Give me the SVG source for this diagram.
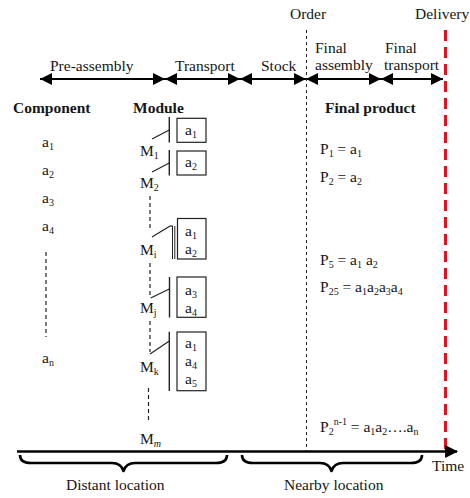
<svg xmlns="http://www.w3.org/2000/svg" width="470" height="498" viewBox="0 0 470 498">
<style>
text{font-family:"Liberation Serif","Times New Roman",serif;font-size:15.5px;fill:#161616}
.b{font-weight:bold}
.s{font-size:10px}
.box{fill:#fff;stroke:#222;stroke-width:1.2}
.bar{stroke:#222;stroke-width:1.4;fill:none}
.bar2{stroke:#222;stroke-width:1;fill:none}
.ln{stroke:#222;stroke-width:1.2;fill:none}
.dash{stroke:#222;stroke-width:1.2;stroke-dasharray:4 3;fill:none}
.arr{stroke:#000;stroke-width:2;marker-start:url(#ah);marker-end:url(#ah)}
.brace{stroke:#000;stroke-width:2.6;fill:none;stroke-linejoin:round}
</style>
<defs>
<marker id="ah" viewBox="0 0 12 12" refX="12" refY="6" markerWidth="12" markerHeight="12" orient="auto-start-reverse" markerUnits="userSpaceOnUse">
<path d="M0,0 L12,6 L0,12 z" fill="#000"/>
</marker>
<marker id="th" viewBox="0 0 12 12" refX="11" refY="6" markerWidth="13" markerHeight="13" orient="auto" markerUnits="userSpaceOnUse">
<path d="M0,0 L12,6 L0,12 z" fill="#000"/>
</marker>
</defs>
<rect width="470" height="498" fill="#fff"/>

<g id="connectors">
<line class="arr" x1="40" y1="79" x2="165" y2="79"/>
<line class="arr" x1="165" y1="79" x2="240" y2="79"/>
<line class="arr" x1="240" y1="79" x2="306" y2="79"/>
<line class="arr" x1="306" y1="79" x2="381" y2="79"/>
<line class="arr" x1="381" y1="79" x2="443" y2="79"/>
<line x1="306.5" y1="30" x2="306.5" y2="451" stroke="#222" stroke-width="1" stroke-dasharray="3 3"/>
<line x1="445.5" y1="30" x2="445.5" y2="451" stroke="#e8101a" stroke-width="3" stroke-dasharray="11 6"/>
<line x1="17" y1="451.5" x2="457" y2="451.5" stroke="#000" stroke-width="2.6" marker-end="url(#th)"/>
<path class="brace" d="M20,455 Q20,463 31,463 L112,463 Q121,463 123.5,471 Q126,463 135,463 L216,463 Q227,463 227,455"/>
<path class="brace" d="M242,455 Q242,463 253,463 L320,463 Q329,463 331.5,471 Q334,463 343,463 L411,463 Q422,463 422,455"/>
<line class="dash" x1="46" y1="252" x2="46" y2="337"/>
<line class="dash" x1="150" y1="196" x2="150" y2="228"/>
<line class="dash" x1="150" y1="263" x2="150" y2="297"/>
<line class="dash" x1="150" y1="321" x2="150" y2="352"/>
<line class="dash" x1="148.5" y1="388" x2="148.5" y2="421"/>
<line class="ln" x1="152" y1="139" x2="169.3" y2="130"/>
<line class="ln" x1="152" y1="172" x2="169.3" y2="163"/>
<line class="ln" x1="152" y1="237" x2="170" y2="226"/>
<line class="ln" x1="170" y1="226" x2="172.7" y2="226"/>
<line class="ln" x1="150.7" y1="298" x2="169.3" y2="289"/>
<line class="ln" x1="150" y1="354" x2="169.3" y2="341"/>
</g>

<g id="timeline-labels">
<text x="290" y="19">Order</text>
<text x="415" y="19">Delivery</text>
<text x="50" y="71">Pre-assembly</text>
<text x="175" y="71">Transport</text>
<text x="261" y="71">Stock</text>
<text x="315" y="53">Final</text>
<text x="315" y="70">assembly</text>
<text x="385" y="53">Final</text>
<text x="384" y="70">transport</text>
<text x="432" y="471">Time</text>
<text x="66" y="490">Distant location</text>
<text x="284" y="490">Nearby location</text>
</g>

<g id="headers">
<text class="b" x="13" y="113">Component</text>
<text class="b" x="133" y="113">Module</text>
<text class="b" x="325" y="113">Final product</text>
</g>

<g id="components">
<text x="42" y="147">a<tspan class="s" dy="3">1</tspan></text>
<text x="42" y="175">a<tspan class="s" dy="3">2</tspan></text>
<text x="42" y="203">a<tspan class="s" dy="3">3</tspan></text>
<text x="42" y="231">a<tspan class="s" dy="3">4</tspan></text>
<text x="42" y="363">a<tspan class="s" dy="3">n</tspan></text>
</g>

<g id="module-M1">
<line class="bar" x1="169.3" y1="117" x2="169.3" y2="142.5"/>
<rect class="box" x="177" y="118.3" width="29" height="24"/>
<text x="185" y="135">a<tspan class="s" dy="3">1</tspan></text>
<text x="140" y="156">M<tspan class="s" dy="3">1</tspan></text>
</g>

<g id="module-M2">
<line class="bar" x1="169.3" y1="150" x2="169.3" y2="175.5"/>
<rect class="box" x="177" y="151" width="29" height="24"/>
<text x="185" y="167">a<tspan class="s" dy="3">2</tspan></text>
<text x="140" y="188">M<tspan class="s" dy="3">2</tspan></text>
</g>

<g id="module-Mi">
<line class="bar2" x1="172.5" y1="226" x2="172.5" y2="259"/>
<line class="bar2" x1="174.8" y1="226" x2="174.8" y2="259"/>
<rect class="box" x="177.5" y="218.5" width="28.5" height="40.5"/>
<text x="185" y="236">a<tspan class="s" dy="3">1</tspan></text>
<text x="185" y="254">a<tspan class="s" dy="3">2</tspan></text>
<text x="140" y="255">M<tspan class="s" dy="3">i</tspan></text>
</g>

<g id="module-Mj">
<line class="bar" x1="169.5" y1="277" x2="169.5" y2="317.5"/>
<rect class="box" x="177" y="277" width="29" height="40.3"/>
<text x="185" y="295">a<tspan class="s" dy="3">3</tspan></text>
<text x="185" y="313">a<tspan class="s" dy="3">4</tspan></text>
<text x="140" y="313">M<tspan class="s" dy="3">j</tspan></text>
</g>

<g id="module-Mk">
<line class="bar" x1="169.3" y1="331.7" x2="169.3" y2="391"/>
<rect class="box" x="177" y="332" width="29" height="58.7"/>
<text x="185" y="348">a<tspan class="s" dy="3">1</tspan></text>
<text x="185" y="366">a<tspan class="s" dy="3">4</tspan></text>
<text x="185" y="384">a<tspan class="s" dy="3">5</tspan></text>
<text x="140" y="372">M<tspan class="s" dy="3">k</tspan></text>
</g>

<g id="module-Mm">
<text x="140" y="444">M<tspan class="s" dy="3" font-style="italic">m</tspan></text>
</g>

<g id="final-products">
<text x="320" y="154">P<tspan class="s" dy="3">1</tspan><tspan dy="-3"> = a</tspan><tspan class="s" dy="3">1</tspan></text>
<text x="320" y="182">P<tspan class="s" dy="3">2</tspan><tspan dy="-3"> = a</tspan><tspan class="s" dy="3">2</tspan></text>
<text x="320" y="265">P<tspan class="s" dy="3">5</tspan><tspan dy="-3"> = a</tspan><tspan class="s" dy="3">1</tspan><tspan dy="-3"> a</tspan><tspan class="s" dy="3">2</tspan></text>
<text x="320" y="292">P<tspan class="s" dy="3">25</tspan><tspan dy="-3"> = a</tspan><tspan class="s" dy="3">1</tspan><tspan dy="-3">a</tspan><tspan class="s" dy="3">2</tspan><tspan dy="-3">a</tspan><tspan class="s" dy="3">3</tspan><tspan dy="-3">a</tspan><tspan class="s" dy="3">4</tspan></text>
<text x="320" y="432">P<tspan class="s" dy="3">2</tspan><tspan class="s" dy="-10">n-1</tspan><tspan dy="7"> = a</tspan><tspan class="s" dy="3">1</tspan><tspan dy="-3">a</tspan><tspan class="s" dy="3">2</tspan><tspan dy="-3">….a</tspan><tspan class="s" dy="3">n</tspan></text>
</g>
</svg>
